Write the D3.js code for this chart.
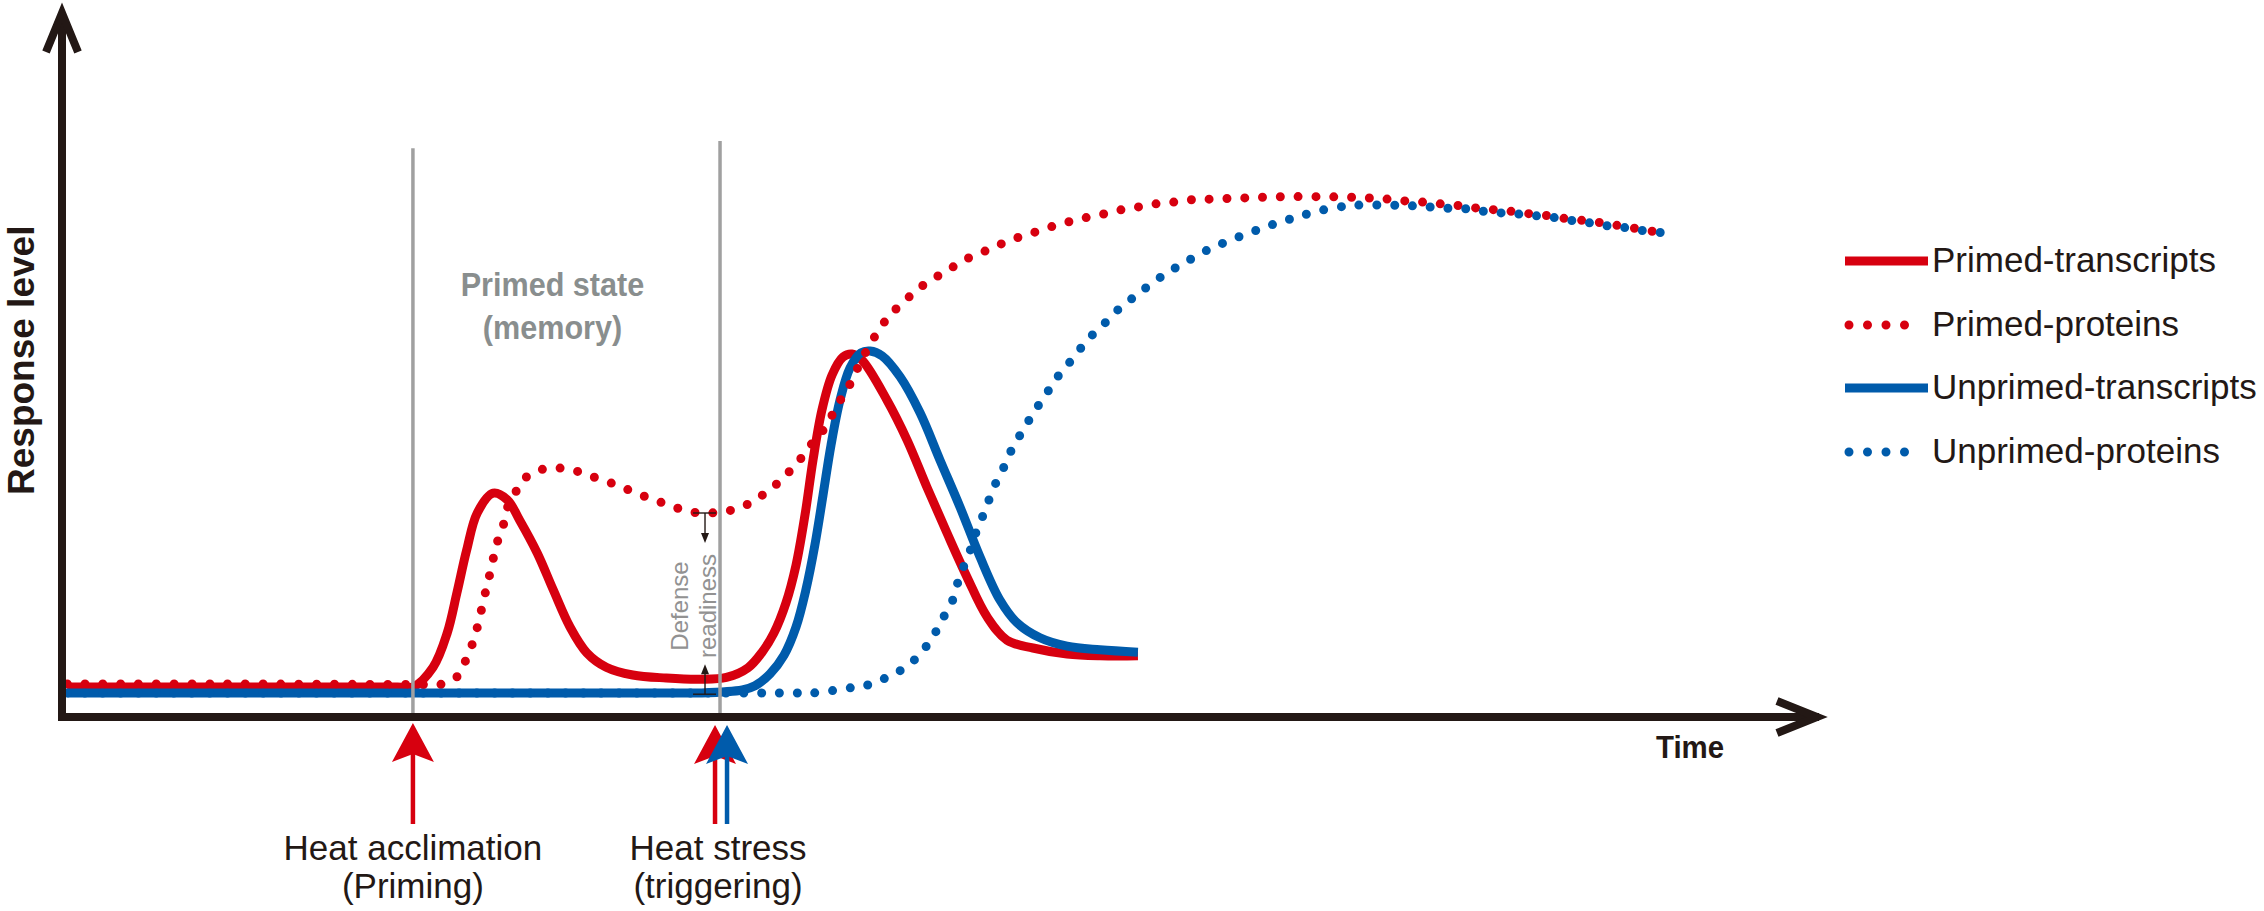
<!DOCTYPE html>
<html>
<head>
<meta charset="utf-8">
<script src="https://cdn.jsdelivr.net/npm/d3@7"></script>
<style>
  html, body { margin: 0; padding: 0; background: #ffffff; }
  svg { display: block; }
  text { font-family: "Liberation Sans", Arial, Helvetica, sans-serif; }
</style>
</head>
<body>
<svg id="chart" width="2264" height="911"></svg>
<script>
// ---------------- DATA (time units 0-100, response level 0-100) ----------------
const seriesNames = ["Primed-transcripts", "Primed-proteins", "Unprimed-transcripts", "Unprimed-proteins"];

const primedTranscripts = [
  [0.3,5.0],[10,5.0],[19.0,5.0],[19.86,5.0],[21.0,8.3],[21.8,14.0],[22.35,20.7],[22.9,27.8],[23.5,34.0],
  [24.4,37.3],[25.2,36.2],[25.9,32.8],[26.9,27.3],[27.8,21.2],[28.75,15.0],[29.7,10.7],[30.8,8.3],
  [32.3,7.0],[34.2,6.5],[36.1,6.3],[37.6,6.6],[38.82,8.2],[39.62,10.8],[40.29,14.0],[40.97,19.0],
  [41.54,25.3],[42.05,33.7],[42.5,42.8],[43.01,51.2],[43.58,57.0],[44.2,60.0],[44.71,60.5],[45.27,59.5],
  [46.69,52.8],[47.82,46.2],[48.95,38.3],[50.08,30.7],[51.22,23.3],[52.35,16.7],[53.48,12.8],
  [54.95,11.5],[56.88,10.5],[58.74,10.2],[60.89,10.2]
];

const primedProteins = [
  [0.3,5.5],[10,5.5],[20.5,5.4],[21.39,5.4],[22.35,6.7],[22.81,9.2],[23.2,12.0],[23.49,14.8],[23.94,20.5],
  [24.17,23.3],[24.39,26.2],[24.62,29.0],[24.96,31.8],[25.18,34.7],[25.64,37.3],[26.09,39.5],[26.88,41.0],
  [27.84,41.5],[28.86,41.2],[29.77,40.3],[30.79,39.3],[31.69,38.3],[32.6,37.2],[33.5,36.2],
  [34.47,35.2],[35.37,34.3],[36.39,34.0],[37.41,34.2],[38.48,35.0],[39.39,36.5],[40.24,38.3],
  [41.03,40.5],[41.71,42.7],[42.33,45.2],[43.01,47.5],[43.58,50.3],[44.09,53.0],[44.6,55.5],
  [45.05,58.3],[45.56,61.2],[46.41,65.3],[47.03,67.5],[47.82,69.7],[48.61,71.7],[49.46,73.3],
  [50.31,74.8],[51.16,76.3],[52.12,77.5],[53.03,78.7],[53.99,79.8],[54.95,80.7],[55.97,81.7],
  [56.93,82.5],[57.9,83.2],[58.91,83.8],[59.88,84.5],[60.89,85.0],[61.86,85.5],[62.87,85.8],
  [63.89,86.2],[64.86,86.3],[66.84,86.5],[68.93,86.7],[71.93,86.7],[74.02,86.5],[75.04,86.3],
  [76.06,86.0],[77.08,85.8],[78.1,85.5],[79.17,85.2],[80.14,84.8],[81.21,84.5],[82.23,84.2],
  [83.25,83.8],[84.27,83.5],[85.23,83.0],[86.25,82.7],[87.27,82.3],[88.29,81.8],[89.3,81.3],
  [90.32,80.8]
];

const unprimedTranscripts = [
  [0.3,4.0],[12,4.0],[24,4.0],[35,4.0],[36.1,4.0],[38.5,4.5],[39.22,5.2],[40.07,7.2],[40.86,10.3],
  [41.54,15.0],[42.1,21.2],[42.61,28.7],[43.07,37.0],[43.52,45.3],[44.03,52.8],[44.6,58.2],[45.22,60.7],
  [45.73,61.0],[46.41,60.2],[47.43,56.7],[48.56,50.7],[49.69,42.8],[50.82,35.0],[51.95,26.7],[53.08,19.5],
  [54.05,15.7],[55.35,13.2],[56.88,11.8],[58.74,11.2],[60.89,10.8]
];

const unprimedProteins = [
  [0.3,4.0],[14,4.0],[28,4.0],[41.5,4.0],[42.5,4.0],[44.48,4.8],[45.56,5.3],[46.46,6.3],[47.31,7.5],
  [48.16,9.3],[48.84,11.5],[49.41,14.0],[49.86,16.5],[50.37,19.2],[50.65,22.0],[50.99,24.8],[51.39,27.7],
  [51.67,30.3],[52.07,33.2],[52.41,35.8],[52.8,38.7],[53.25,41.3],[53.65,44.0],[54.16,46.7],[54.67,49.2],
  [55.23,51.8],[55.8,54.3],[56.37,56.8],[57.05,59.2],[57.72,61.7],[58.35,63.8],[59.14,66.0],
  [59.88,68.2],[60.67,70.0],[61.46,71.8],[62.37,73.7],[63.21,75.2],[64.12,76.7],[65.08,78.2],
  [65.99,79.3],[67.0,80.5],[67.97,81.5],[68.93,82.5],[69.89,83.3],[70.91,84.2],[72.27,85.0],
  [73.29,85.3],[75.33,85.3],[76.4,85.2],[77.42,85.0],[78.44,84.8],[79.46,84.7],[80.42,84.3],
  [81.5,84.0],[82.51,83.8],[83.53,83.5],[84.55,83.2],[85.57,82.7],[86.59,82.3],[87.61,81.8],
  [88.62,81.5],[89.64,81.0],[90.66,80.7]
];

// events: time of priming and triggering, top of the grey marker lines
const eventTimes = [19.86, 37.24];
const eventLineTops = [94.8, 96.0];
const eventLabels = [["Heat acclimation", "(Priming)"], ["Heat stress", "(triggering)"]];
// defense readiness gap (time, upper level, lower level)
const readinessTime = [36.39];
const readinessLevels = [34.0, 3.8];
const stateLabel = ["Primed state", "(memory)"];
const axisLabels = ["Time", "Response level"];
const readinessLabel = ["Defense", "readiness"];

// ---------------- STYLES ----------------
const RED = "#D7000F", BLUE = "#005BAB", AXIS = "#231815", GREYLINE = "#A0A0A0", GREYTEXT = "#898E8E";

const svg = d3.select("#chart");
const x = d3.scaleLinear().domain([0, 100]).range([62, 1829]);
const y = d3.scaleLinear().domain([0, 100]).range([717, 117]);

const line = d3.line().x(d => x(d[0])).y(d => y(d[1])).curve(d3.curveCatmullRom.alpha(0.5));

const series = [
  { name: seriesNames[0], data: primedTranscripts, color: RED, dotted: false },
  { name: seriesNames[1], data: primedProteins, color: RED, dotted: true },
  { name: seriesNames[2], data: unprimedTranscripts, color: BLUE, dotted: false },
  { name: seriesNames[3], data: unprimedProteins, color: BLUE, dotted: true }
];
const drawOrder = [0, 2, 1, 3];

const gCurves = svg.append("g");
drawOrder.forEach(i => {
  const s = series[i];
  gCurves.append("path")
    .attr("d", line(s.data))
    .attr("fill", "none")
    .attr("stroke", s.color)
    .attr("stroke-width", 9)
    .attr("stroke-linecap", s.dotted ? "round" : "butt")
    .attr("stroke-linejoin", "round")
    .attr("stroke-dasharray", s.dotted ? "0 17.8" : null);
});

// grey event lines
svg.append("g").selectAll("line").data(eventTimes).join("line")
  .attr("x1", d => x(d)).attr("x2", d => x(d))
  .attr("y1", (d, i) => y(eventLineTops[i])).attr("y2", y(0))
  .attr("stroke", GREYLINE).attr("stroke-width", 3.5);

// axes
const gAxis = svg.append("g").attr("stroke", AXIS).attr("fill", "none").attr("stroke-width", 8);
gAxis.append("line").attr("x1", x(0)).attr("x2", x(0)).attr("y1", y(0) + 4).attr("y2", 14);
gAxis.append("line").attr("x1", x(0) - 4).attr("x2", x(100) - 10).attr("y1", y(0)).attr("y2", y(0));
gAxis.append("polyline")
  .attr("points", [[x(0) - 16, 52], [x(0), 13], [x(0) + 16, 52]].map(p => p.join(",")).join(" "))
  .attr("stroke-linejoin", "miter").attr("stroke-miterlimit", 10);
gAxis.append("polyline")
  .attr("points", [[x(100) - 52, y(0) - 16], [x(100) - 12, y(0)], [x(100) - 52, y(0) + 16]].map(p => p.join(",")).join(" "))
  .attr("stroke-linejoin", "miter").attr("stroke-miterlimit", 10);

// axis titles
svg.append("text")
  .attr("transform", `translate(1656,758) scale(0.92,1)`)
  .attr("font-size", 32).attr("font-weight", "bold").attr("fill", AXIS)
  .text(axisLabels[0]);
svg.append("text")
  .attr("transform", `translate(34,495) rotate(-90)`)
  .attr("font-size", 37).attr("font-weight", "bold").attr("fill", AXIS)
  .text(axisLabels[1]);

// primed state label
const stateX = (x(eventTimes[0]) + x(eventTimes[1])) / 2 - 14;
[296, 339].forEach((yy, i) => {
  svg.append("text")
    .attr("transform", `translate(${stateX},${yy}) scale(0.9,1)`)
    .attr("text-anchor", "middle").attr("font-size", 34).attr("font-weight", "bold")
    .attr("fill", GREYTEXT).text(stateLabel[i]);
});

// event arrows below axis
function upArrow(g, cx, tipY, color) {
  g.append("line").attr("x1", cx).attr("x2", cx).attr("y1", tipY + 30).attr("y2", 824)
    .attr("stroke", color).attr("stroke-width", 4.5);
  g.append("path")
    .attr("d", `M${cx},${tipY} L${cx - 21},${tipY + 39} L${cx},${tipY + 31} L${cx + 21},${tipY + 39} Z`)
    .attr("fill", color);
}
const gArrows = svg.append("g");
upArrow(gArrows, x(eventTimes[0]), 723, RED);
upArrow(gArrows, x(eventTimes[1]) - 5, 725, RED);
upArrow(gArrows, x(eventTimes[1]) + 7, 725, BLUE);

// event labels
eventTimes.forEach((t, i) => {
  eventLabels[i].forEach((lab, j) => {
    svg.append("text")
      .attr("x", x(t) - (i === 1 ? 2 : 0)).attr("y", 860 + j * 38)
      .attr("text-anchor", "middle").attr("font-size", 35).attr("fill", AXIS)
      .text(lab);
  });
});

// defense readiness annotation
const rx = x(readinessTime[0]);
const gR = svg.append("g").attr("stroke", AXIS).attr("stroke-width", 1.4);
gR.append("line").attr("x1", rx - 12).attr("x2", rx + 11).attr("y1", y(readinessLevels[0])).attr("y2", y(readinessLevels[0]));
gR.append("line").attr("x1", rx).attr("x2", rx).attr("y1", y(readinessLevels[0])).attr("y2", y(readinessLevels[0]) + 22);
gR.append("path").attr("d", `M${rx - 4},${y(readinessLevels[0]) + 20} L${rx},${y(readinessLevels[0]) + 30} L${rx + 4},${y(readinessLevels[0]) + 20} Z`).attr("fill", AXIS).attr("stroke", "none");
gR.append("line").attr("x1", rx - 12).attr("x2", rx + 11).attr("y1", y(readinessLevels[1])).attr("y2", y(readinessLevels[1]));
gR.append("line").attr("x1", rx).attr("x2", rx).attr("y1", y(readinessLevels[1])).attr("y2", y(readinessLevels[1]) - 22);
gR.append("path").attr("d", `M${rx - 4},${y(readinessLevels[1]) - 20} L${rx},${y(readinessLevels[1]) - 30} L${rx + 4},${y(readinessLevels[1]) - 20} Z`).attr("fill", AXIS).attr("stroke", "none");

[[688, readinessLabel[0]], [716, readinessLabel[1]]].forEach(([bx, lab]) => {
  svg.append("text")
    .attr("transform", `translate(${bx},606) rotate(-90)`)
    .attr("text-anchor", "middle").attr("font-size", 24).attr("fill", "#929292")
    .text(lab);
});

// legend
const legRows = [261, 325, 388, 452];
const gLeg = svg.append("g");
series.forEach((s, i) => {
  const yy = legRows[i];
  if (s.dotted) {
    gLeg.append("path").attr("d", `M1849,${yy} L1923,${yy}`)
      .attr("stroke", s.color).attr("stroke-width", 9).attr("stroke-linecap", "round")
      .attr("stroke-dasharray", "0 18.5").attr("fill", "none");
  } else {
    gLeg.append("line").attr("x1", 1845).attr("x2", 1928).attr("y1", yy).attr("y2", yy)
      .attr("stroke", s.color).attr("stroke-width", 9);
  }
  gLeg.append("text").attr("x", 1932).attr("y", yy + 11)
    .attr("font-size", 35).attr("fill", AXIS).text(s.name);
});
</script>
</body>
</html>
